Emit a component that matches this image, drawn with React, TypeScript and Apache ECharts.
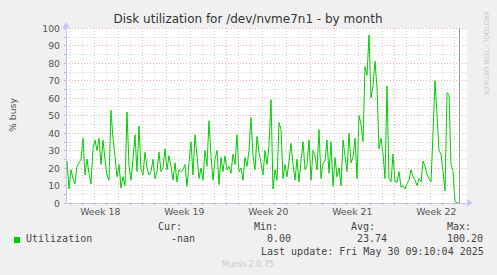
import React, { useEffect, useRef } from "react";
import * as echarts from "echarts";

const TITLE = "Disk utilization for /dev/nvme7n1 - by month";
const Y_NAME = "% busy";
const WEEK_LABELS = ["Week 18", "Week 19", "Week 20", "Week 21", "Week 22"];
// days since Monday of week 18
const WEEK_CENTERS = [3.5, 10.5, 17.5, 24.5, 31.5];
const WEEK_STARTS = [7, 14, 21, 28];
const DAY_LINES = [1, 2, 3, 4, 5, 6, 7, 8, 9, 10, 11, 12, 13, 14, 15, 16, 17, 18, 19, 20, 21, 22, 23, 24, 25, 26, 27, 28, 29, 30, 31, 32, 33];
const X_MIN = 0.642;
const X_MAX = 34.058;
const START_DAY = 0.725;
const STEP_DAYS = 1 / 6; // 4 hours

const utilization = [
  24, 8, 19, 14, 11, 21, 23, 25, 37, 16,
  25, 17, 11, 31, 36, 30, 37, 22, 36, 25,
  16, 13, 53, 37, 27, 15, 22, 8.5, 15, 10,
  52, 21, 13, 25, 39, 18, 44, 19, 16, 29,
  20, 16, 18, 25, 14, 18, 29, 18, 20,
  31, 19, 27, 21, 13, 23, 12, 19, 18, 19,
  22, 9.5, 23, 35, 16, 39, 27, 14, 20, 13,
  30, 21, 47, 27, 13, 25, 30, 10.5, 26, 18,
  27, 19, 21, 17, 28, 22, 39, 18, 20, 13,
  26, 21, 30, 49, 27, 19, 38, 29, 23,
  16, 30, 22, 33, 59, 8, 19, 13, 46, 42,
  14, 22, 15, 24, 34, 22, 13, 25, 12, 24,
  35, 19, 22, 36, 13, 30, 27, 19, 42, 14,
  23, 24, 36, 17, 35, 9.5, 26, 15, 20, 10,
  36, 27, 18, 40, 23, 26, 37, 14, 50,
  45, 35, 78, 73, 96, 60, 67, 81, 66, 31,
  37, 28, 14, 67, 14, 12, 28, 12, 12, 18,
  9, 10, 8, 11, 13, 19, 15, 13, 10, 14,
  12, 24, 21, 16, 14, 12, 40, 70, 50, 30,
  28, 18, 7, 63, 62, 22, 18, 1, 0, 0,
];

const SERIES_NAME = "Utilization";
const LEGEND_HEADERS = ["Cur:", "Min:", "Avg:", "Max:"];
const LEGEND_VALUES = ["-nan", "0.00", "23.74", "100.20"];
const LAST_UPDATE = "Last update: Fri May 30 09:10:04 2025";
const FOOTER = "Munin 2.0.75";
const WATERMARK = "RRDTOOL / TOBI OETIKER";

const GREEN = "#00cc00";
const MAJOR = "rgba(225,110,110,0.55)";
const MINOR = "rgba(170,170,170,0.55)";
const AXIS = "#c4c4f4";
const MONO = "'DejaVu Sans Mono', monospace";
const SANS = "'DejaVu Sans', sans-serif";

export default function App() {
  const ref = useRef<HTMLDivElement>(null);
  useEffect(() => {
    if (!ref.current) return;
    const chart = echarts.init(ref.current, null, { renderer: "svg" });
    const points = utilization.map((v, i) => [START_DAY + i * STEP_DAYS, v]);
    const lastX = START_DAY + (utilization.length - 1) * STEP_DAYS;

    const vLines: any[] = DAY_LINES.filter((d) => !WEEK_STARTS.includes(d)).map((d) => ({
      xAxis: d,
      lineStyle: { color: MINOR, type: [1, 2], width: 1 },
    }));
    WEEK_STARTS.forEach((d) =>
      vLines.push({ xAxis: d, lineStyle: { color: MAJOR, type: [1, 2], width: 1 } })
    );
    vLines.push({ xAxis: lastX, lineStyle: { color: "#9a9a9a", type: "solid", width: 1 } });

    const headerX = [158, 254, 351, 447];
    const valueX = [171, 267, 357, 447];
    const legendTexts: any[] = [];
    LEGEND_HEADERS.forEach((h, i) =>
      legendTexts.push({
        type: "text",
        left: headerX[i],
        top: 221,
        style: { text: h, font: `10px ${MONO}`, fill: "#444" },
      })
    );
    LEGEND_VALUES.forEach((v, i) =>
      legendTexts.push({
        type: "text",
        left: valueX[i],
        top: 233,
        style: { text: v, font: `10px ${MONO}`, fill: "#444" },
      })
    );

    chart.setOption({
      animation: false,
      backgroundColor: "#f0f0f0",
      grid: {
        left: 66,
        top: 28,
        width: 401,
        height: 175,
        show: true,
        backgroundColor: "#ffffff",
        borderWidth: 0,
      },
      xAxis: {
        type: "value",
        min: X_MIN,
        max: X_MAX,
        axisLine: {
          show: true,
          lineStyle: { color: AXIS, width: 1 },
          symbol: ["none", "arrow"],
          symbolSize: [6, 7],
          symbolOffset: [0, 6],
        },
        axisTick: {
          show: true,
          customValues: DAY_LINES,
          length: 2,
          lineStyle: { color: "#bbb" },
        },
        splitLine: { show: false },
        axisLabel: {
          customValues: WEEK_CENTERS,
          formatter: (v: number) => {
            const i = WEEK_CENTERS.findIndex((c) => Math.abs(c - v) < 0.01);
            return i >= 0 ? WEEK_LABELS[i] : "";
          },
          color: "#555",
          fontFamily: SANS,
          fontSize: 9.3,
          margin: 4,
        },
      },
      yAxis: {
        type: "value",
        min: 0,
        max: 100,
        interval: 10,
        axisLine: {
          show: true,
          lineStyle: { color: AXIS, width: 1 },
          symbol: ["none", "arrow"],
          symbolSize: [6, 7],
          symbolOffset: [0, 6],
        },
        axisTick: { show: true, length: 2, lineStyle: { color: "#bbb" } },
        minorTick: { show: true, splitNumber: 2, length: 2, lineStyle: { color: "#bbb" } },
        splitLine: { show: true, lineStyle: { color: MAJOR, type: [1, 2], width: 1 } },
        minorSplitLine: { show: true, lineStyle: { color: MINOR, type: [1, 2], width: 1 } },
        axisLabel: {
          color: "#555",
          fontFamily: SANS,
          fontSize: 9.3,
          margin: 6,
        },
      },
      graphic: [
        {
          type: "text",
          x: 248,
          y: 19,
          style: {
            text: TITLE,
            font: `12px ${SANS}`,
            fill: "#333",
            textAlign: "center",
            textVerticalAlign: "middle",
          },
        },
        {
          type: "text",
          x: 12,
          y: 115,
          rotation: Math.PI / 2,
          style: {
            text: Y_NAME,
            font: `9.3px ${SANS}`,
            fill: "#555",
            textAlign: "center",
            textVerticalAlign: "middle",
          },
        },
        {
          type: "text",
          x: 486,
          y: 53,
          rotation: -Math.PI / 2,
          style: {
            text: WATERMARK,
            font: `6.5px ${SANS}`,
            fill: "#c8c8c8",
            textAlign: "center",
            textVerticalAlign: "middle",
          },
        },
        {
          type: "rect",
          shape: { x: 14, y: 237, width: 6, height: 6 },
          style: { fill: GREEN },
        },
        {
          type: "text",
          left: 26,
          top: 233,
          style: { text: SERIES_NAME, font: `10px ${MONO}`, fill: "#444" },
        },
        ...legendTexts,
        {
          type: "text",
          left: 261,
          top: 246,
          style: { text: LAST_UPDATE, font: `10px ${MONO}`, fill: "#444" },
        },
        {
          type: "text",
          x: 248,
          y: 264,
          style: {
            text: FOOTER,
            font: `8px ${SANS}`,
            fill: "#c8c8c8",
            textAlign: "center",
            textVerticalAlign: "middle",
          },
        },
      ],
      series: [
        {
          type: "line",
          data: [],
          silent: true,
          markLine: {
            silent: true,
            symbol: ["none", "none"],
            label: { show: false },
            data: vLines,
          },
        },
        {
          type: "line",
          name: SERIES_NAME,
          data: points,
          showSymbol: false,
          lineStyle: { color: GREEN, width: 1 },
          itemStyle: { color: GREEN },
          z: 3,
        },
      ],
    });
    return () => chart.dispose();
  }, []);
  return (
    <div
      ref={ref}
      style={{ position: "absolute", left: 0, top: 0, width: 497, height: 275 }}
    />
  );
}
